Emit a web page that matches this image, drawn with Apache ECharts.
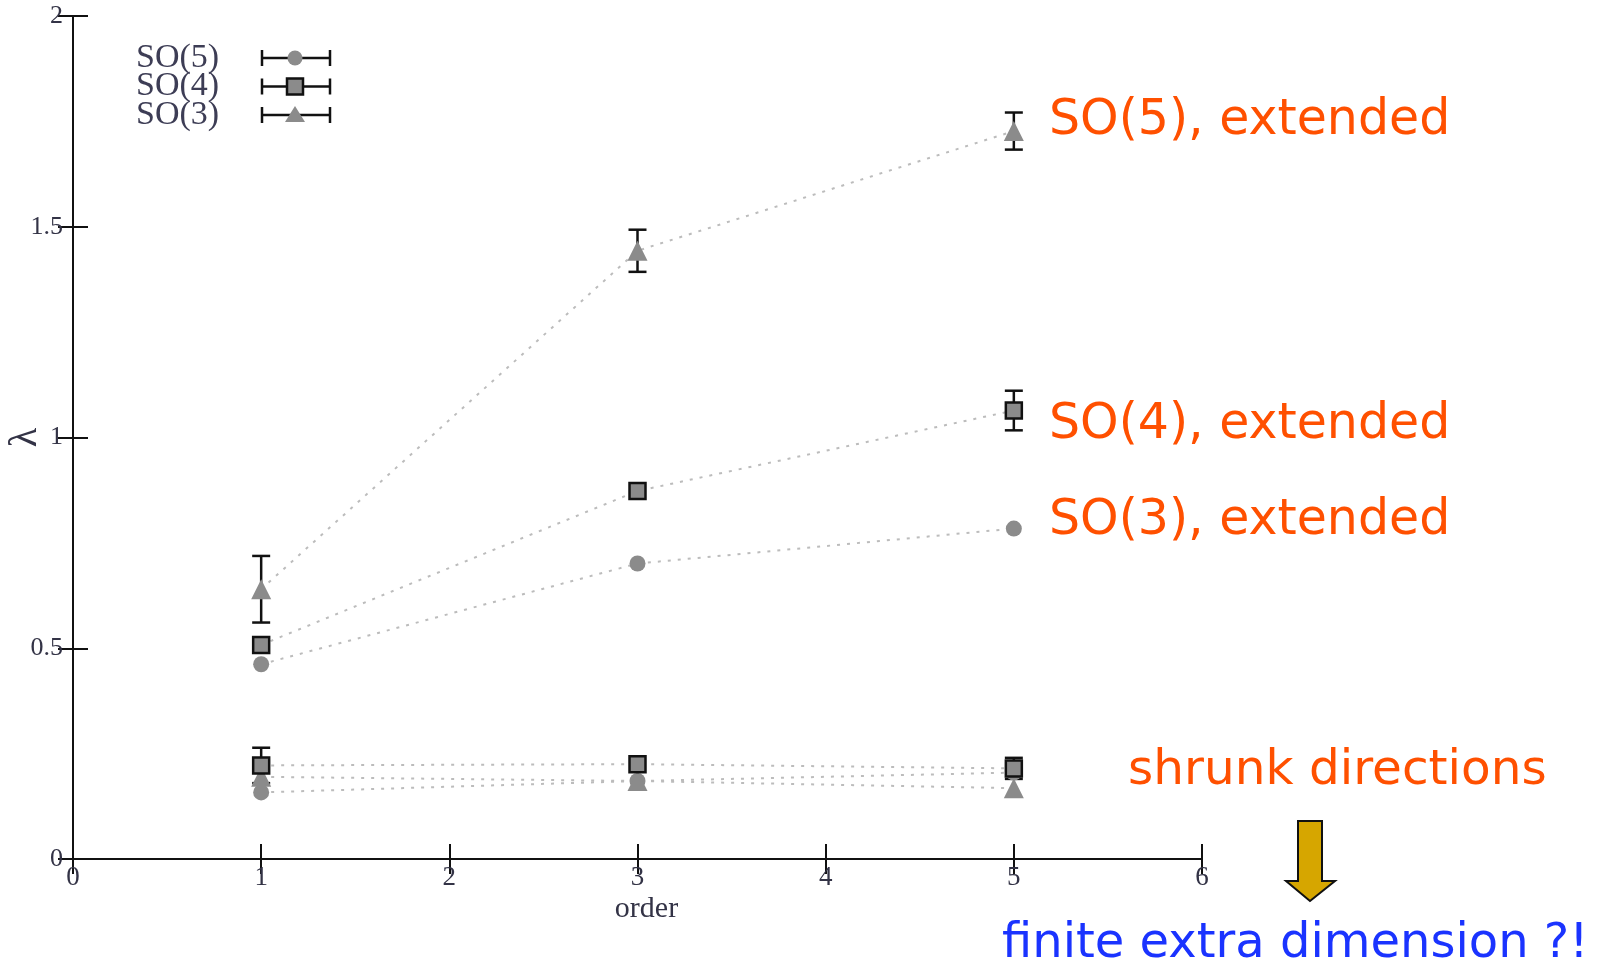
<!DOCTYPE html>
<html>
<head>
<meta charset="utf-8">
<script src="https://cdn.jsdelivr.net/npm/echarts@6/dist/echarts.min.js"></script>
<style>
  html, body { margin: 0; padding: 0; background: #fff; }
  #chart { width: 1597px; height: 966px; }
</style>
</head>
<body>
<div id="chart"></div>
<script>
// Expansion order on the horizontal axis
const orders = [1, 3, 5];

// Eigenvalues lambda per group: upper (extended) and lower (shrunk) branches
const so5Upper = [0.462, 0.701, 0.784];
const so5Lower = [0.158, 0.185, 0.205];
const so4Upper = [0.508, 0.873, 1.064];
const so4Lower = [0.222, 0.225, 0.215];
const so3Upper = [0.640, 1.443, 1.727];
const so3Lower = [0.195, 0.185, 0.168];

// Error bar half-widths (0 = none drawn)
const so5UpperErr = [0, 0, 0];
const so5LowerErr = [0, 0, 0];
const so4UpperErr = [0, 0, 0.047];
const so4LowerErr = [0.042, 0, 0.025];
const so3UpperErr = [0.079, 0.05, 0.044];
const so3LowerErr = [0, 0, 0];

// Tick labels
const xTicks = ['0', '1', '2', '3', '4', '5', '6'];
const yTicks = ['0', '0.5', '1', '1.5', '2'];

// Legend entries and side notes
const legendNames = ['SO(5)', 'SO(4)', 'SO(3)'];
const notes = ['SO(5), extended', 'SO(4), extended', 'SO(3), extended', 'shrunk directions'];
const question = 'finite extra dimension ?!';

const fill = '#8b8b8b';
const serif = '"Liberation Serif", "DejaVu Serif", serif';
const sans = '"DejaVu Sans", Verdana, sans-serif';

function pairs(ys) { return orders.map((x, i) => [x, ys[i]]); }
function errRows(ys, errs) {
  return orders.map((x, i) => [x, ys[i], errs[i]]).filter(r => r[2] > 0);
}

const dotted = { color: '#bcbcbc', width: 2, type: [3, 7] };

function lineSeries(name, ys, symbol, size, extra) {
  return Object.assign({
    name: name,
    type: 'line',
    data: pairs(ys),
    symbol: symbol,
    symbolSize: size,
    lineStyle: dotted,
    itemStyle: { color: fill },
    z: 3,
    animation: false
  }, extra || {});
}

function errorSeries(rows) {
  return {
    type: 'custom',
    data: rows,
    z: 2,
    animation: false,
    renderItem: function (params, api) {
      const x = api.value(0), y = api.value(1), e = api.value(2);
      const top = api.coord([x, y + e]);
      const bot = api.coord([x, y - e]);
      const hw = 9;
      const st = { stroke: '#111', lineWidth: 2.5 };
      return {
        type: 'group',
        children: [
          { type: 'line', shape: { x1: top[0], y1: top[1], x2: bot[0], y2: bot[1] }, style: st },
          { type: 'line', shape: { x1: top[0] - hw, y1: top[1], x2: top[0] + hw, y2: top[1] }, style: st },
          { type: 'line', shape: { x1: bot[0] - hw, y1: bot[1], x2: bot[0] + hw, y2: bot[1] }, style: st }
        ]
      };
    }
  };
}

const squareStyle = { color: fill, borderColor: '#111', borderWidth: 2.5 };

// Legend rows: label, horizontal error-bar sample and marker
const legendGraphic = [];
const legendSymbols = ['circle', 'rect', 'triangle'];
legendNames.forEach((n, i) => {
  const y = 58 + i * 28.5;
  legendGraphic.push({
    type: 'text', left: 136, top: y - 17,
    style: { text: n, font: '34px ' + serif, fill: '#3d3d55' }
  });
  const st = { stroke: '#111', lineWidth: 2.5 };
  legendGraphic.push({ type: 'line', shape: { x1: 262, y1: y, x2: 330, y2: y }, style: st });
  legendGraphic.push({ type: 'line', shape: { x1: 262, y1: y - 8, x2: 262, y2: y + 8 }, style: st });
  legendGraphic.push({ type: 'line', shape: { x1: 330, y1: y - 8, x2: 330, y2: y + 8 }, style: st });
  if (legendSymbols[i] === 'circle') {
    legendGraphic.push({ type: 'circle', shape: { cx: 295, cy: y, r: 7.5 }, style: { fill: fill } });
  } else if (legendSymbols[i] === 'rect') {
    legendGraphic.push({ type: 'rect', shape: { x: 287, y: y - 8, width: 16, height: 16 },
      style: { fill: fill, stroke: '#111', lineWidth: 2.5 } });
  } else {
    legendGraphic.push({ type: 'polygon', shape: { points: [[295, y - 9], [285, y + 7], [305, y + 7]] },
      style: { fill: fill } });
  }
});

// Side notes and the arrow
const noteGraphic = [
  { type: 'text', left: 1049, top: 97, style: { text: notes[0], font: '49px ' + sans, fill: '#ff5000' } },
  { type: 'text', left: 1049, top: 401, style: { text: notes[1], font: '49px ' + sans, fill: '#ff5000' } },
  { type: 'text', left: 1049, top: 497, style: { text: notes[2], font: '49px ' + sans, fill: '#ff5000' } },
  { type: 'text', left: 1128, top: 747, style: { text: notes[3], font: '48.5px ' + sans, fill: '#ff5000' } },
  { type: 'text', left: 1002, top: 921, style: { text: question, font: '48px ' + sans, fill: '#1a33ff' } },
  { type: 'polygon', shape: { points: [[1298, 821], [1322, 821], [1322, 881], [1335, 881], [1310, 901], [1286, 881], [1298, 881]] },
    style: { fill: '#d6a600', stroke: '#111', lineWidth: 2 } }
];

const chart = echarts.init(document.getElementById('chart'), null, { renderer: 'canvas' });

chart.setOption({
  backgroundColor: '#ffffff',
  animation: false,
  grid: { left: 73, right: 395, top: 16, bottom: 107, containLabel: false, outerBoundsMode: 'none' },
  xAxis: [
    {
      type: 'value', min: 0, max: 6, interval: 1, position: 'bottom',
      name: 'order', nameLocation: 'middle', nameGap: 35, nameMoveOverlap: false,
      nameTextStyle: { fontFamily: serif, fontSize: 30, color: '#333346', padding: [0, 0, 0, 18] },
      axisLine: { lineStyle: { color: '#111', width: 2 } },
      axisTick: { inside: true, length: 15, lineStyle: { color: '#111', width: 2 } },
      axisLabel: { margin: 5, fontFamily: serif, fontSize: 27, color: '#333346',
        formatter: v => xTicks[Math.round(v)] },
      splitLine: { show: false }
    },
    {
      type: 'value', min: 0, max: 6, interval: 1, position: 'top',
      axisLine: { lineStyle: { color: '#111', width: 2 } },
      axisTick: { inside: true, length: 15, lineStyle: { color: '#111', width: 2 } },
      axisLabel: { show: false }, splitLine: { show: false }
    }
  ],
  yAxis: [
    {
      type: 'value', min: 0, max: 2, interval: 0.5, position: 'left',
      name: 'λ', nameLocation: 'middle', nameGap: 28, nameRotate: 90, nameMoveOverlap: false,
      nameTextStyle: { fontFamily: serif, fontSize: 40, color: '#333346' },
      axisLine: { lineStyle: { color: '#111', width: 2 } },
      axisTick: { inside: true, length: 15, lineStyle: { color: '#111', width: 2 } },
      axisLabel: { margin: 10, fontFamily: serif, fontSize: 26, color: '#333346',
        formatter: v => yTicks[Math.round(v * 2)] },
      splitLine: { show: false }
    },
    {
      type: 'value', min: 0, max: 2, interval: 0.5, position: 'right',
      axisLine: { lineStyle: { color: '#111', width: 2 } },
      axisTick: { inside: true, length: 15, lineStyle: { color: '#111', width: 2 } },
      axisLabel: { show: false }, splitLine: { show: false }
    }
  ],
  series: [
    errorSeries(errRows(so5Upper, so5UpperErr)),
    errorSeries(errRows(so5Lower, so5LowerErr)),
    errorSeries(errRows(so4Upper, so4UpperErr)),
    errorSeries(errRows(so4Lower, so4LowerErr)),
    errorSeries(errRows(so3Upper, so3UpperErr)),
    errorSeries(errRows(so3Lower, so3LowerErr)),
    lineSeries('SO(5)', so5Upper, 'circle', 16),
    lineSeries('SO(5)', so5Lower, 'circle', 16),
    lineSeries('SO(3)', so3Upper, 'triangle', 20),
    lineSeries('SO(3)', so3Lower, 'triangle', 20),
    lineSeries('SO(4)', so4Upper, 'rect', 16, { itemStyle: squareStyle, z: 4 }),
    lineSeries('SO(4)', so4Lower, 'rect', 16, { itemStyle: squareStyle, z: 4 })
  ],
  graphic: legendGraphic.concat(noteGraphic)
});
</script>
</body>
</html>
